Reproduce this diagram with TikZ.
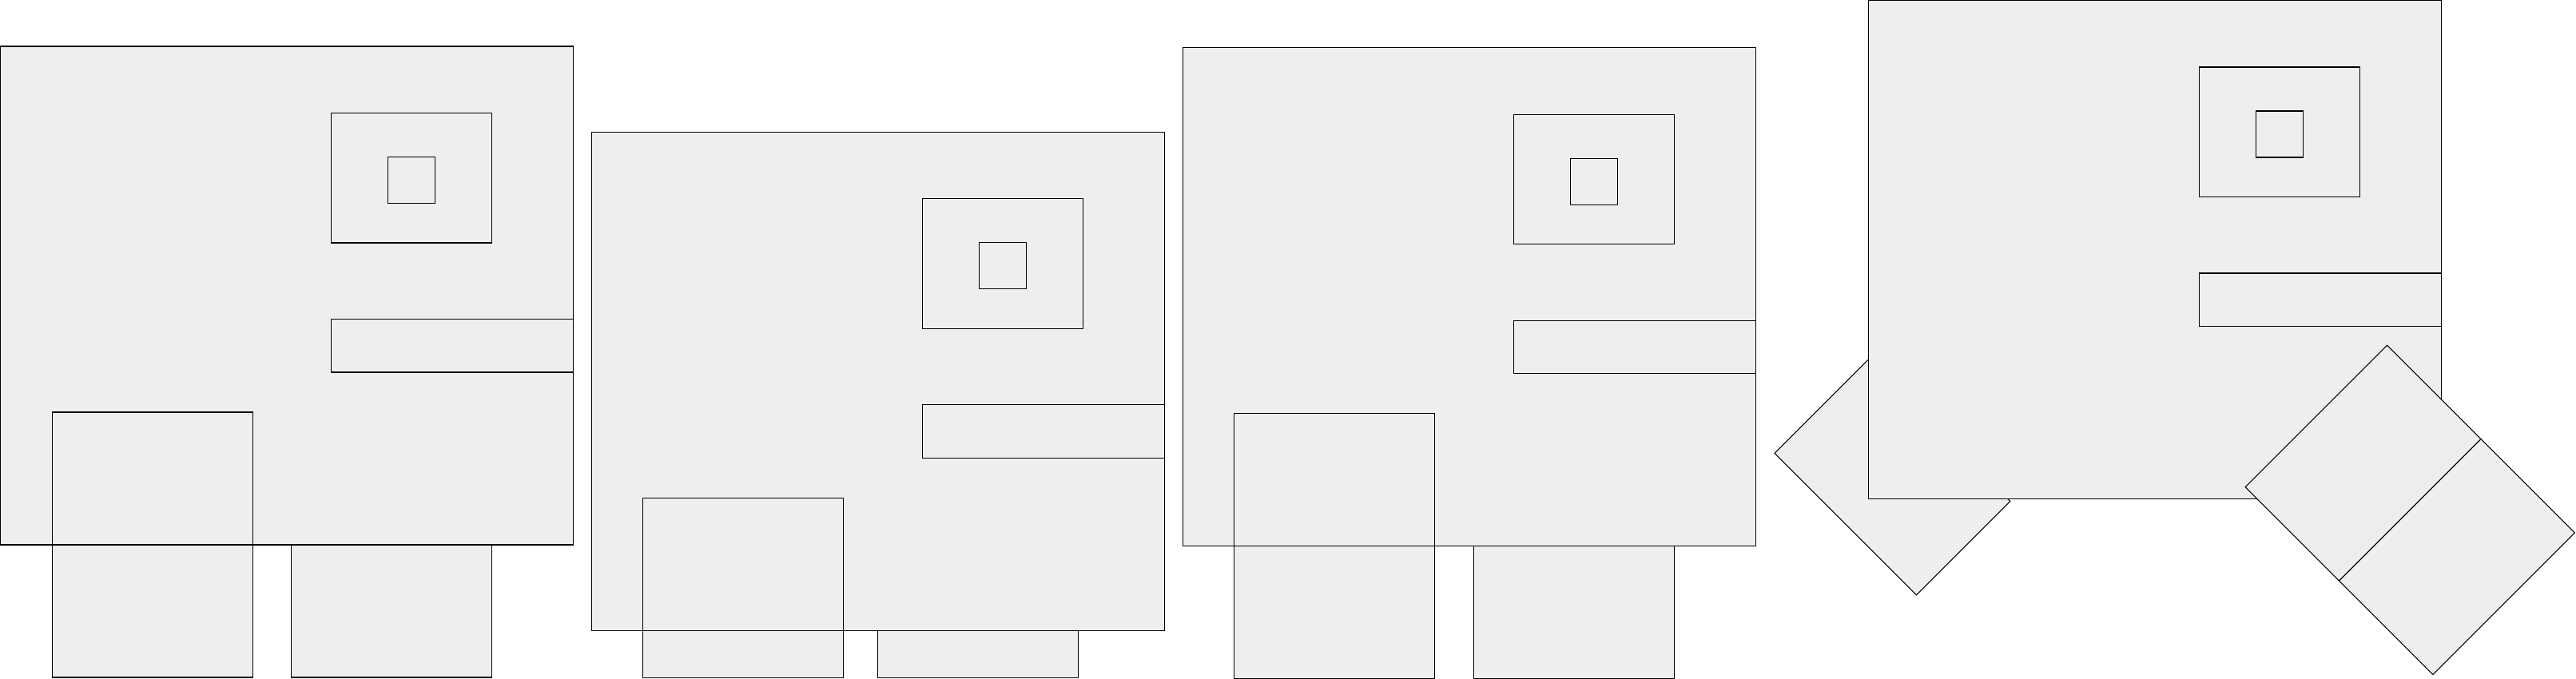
\documentclass[tikz,border=0pt]{standalone}
\usepackage{tikz}
\usetikzlibrary{positioning}
\definecolor{plgray}{RGB}{238,238,238}

\begin{document}
\begin{tikzpicture}[
  node distance=0cm,
  panel/.style={rectangle, draw=black, fill=plgray, line width=0.3pt, inner sep=0pt, outer sep=0pt, minimum width=7.17cm, minimum height=6.24cm},
  window/.style={panel, minimum width=2.01cm, minimum height=1.625cm},
  chipbox/.style={panel, minimum width=0.59cm, minimum height=0.58cm},
  slotbar/.style={panel, minimum width=3.03cm, minimum height=0.665cm},
  leg/.style={panel, minimum width=2.51cm, minimum height=1.66cm},
  stubleg/.style={leg, minimum height=0.59cm}
]
\useasboundingbox (0,0) rectangle (32.24,8.5);

% Panel 1 - legs hanging straight
\node[panel, anchor=north west] (panelA) at (0.005,7.92) {};
\node[window, below left=0.835cm and 1.02cm of panelA.north east] (windowA) {};
\node[chipbox, below=0.55cm of windowA.north] (chipA) {};
\node[slotbar, below left=3.415cm and 0cm of panelA.north east] (slotA) {};
\node[leg, above right=0cm and 0.647cm of panelA.south west] (legA) {};
\node[leg, below=0cm of legA] (legAA) {};
\node[leg, below right=0cm and 3.64cm of panelA.south west] (legAB) {};

% Panel 2 - lowered, legs cut short
\node[panel, anchor=north west] (panelB) at (7.407,6.846) {};
\node[window, below left=0.835cm and 1.02cm of panelB.north east] (windowB) {};
\node[chipbox, below=0.55cm of windowB.north] (chipB) {};
\node[slotbar, below left=3.415cm and 0cm of panelB.north east] (slotB) {};
\node[leg, above right=0cm and 0.64cm of panelB.south west] (legB) {};
\node[stubleg, below=0cm of legB] (legBA) {};
\node[stubleg, below right=0cm and 3.576cm of panelB.south west] (legBB) {};

% Panel 3 - same as panel 1
\node[panel, anchor=north west] (panelC) at (14.807,7.904) {};
\node[window, below left=0.835cm and 1.02cm of panelC.north east] (windowC) {};
\node[chipbox, below=0.55cm of windowC.north] (chipC) {};
\node[slotbar, below left=3.415cm and 0cm of panelC.north east] (slotC) {};
\node[leg, above right=0cm and 0.64cm of panelC.south west] (legC) {};
\node[leg, below=0cm of legC] (legCA) {};
\node[leg, below right=0cm and 3.64cm of panelC.south west] (legCB) {};

% Panel 4 - legs swung out
\node[leg, rotate=-45] (legD) at (23.684,2.525) {};
\node[panel, anchor=north west] (panelD) at (23.385,8.495) {};
\node[window, below left=0.835cm and 1.02cm of panelD.north east] (windowD) {};
\node[chipbox, below=0.55cm of windowD.north] (chipD) {};
\node[slotbar, below left=3.415cm and 0cm of panelD.north east] (slotD) {};
\node[leg, rotate=45] (legDA) at (29.575,2.703) {};
\node[leg, rotate=45, anchor=north] (legDB) at (legDA.south) {};

\end{tikzpicture}
\end{document}
